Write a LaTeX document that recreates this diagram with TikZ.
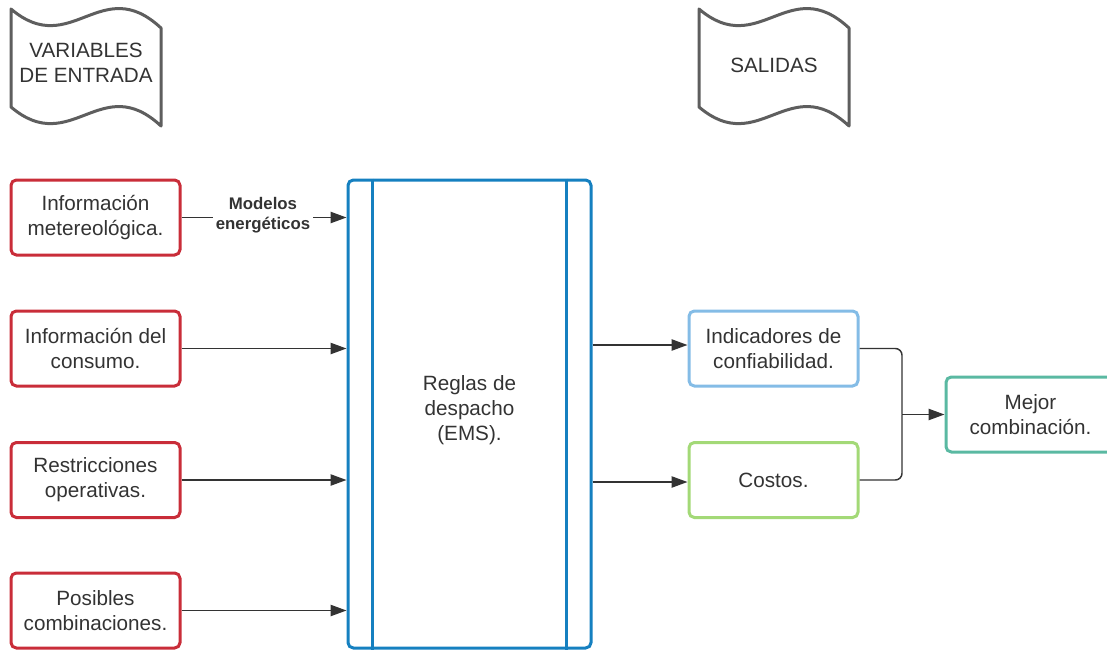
\documentclass[tikz,border=0pt]{standalone}
\usepackage{fontspec}
\setmainfont{Liberation Sans}
\usetikzlibrary{arrows.meta}
\definecolor{cred}{HTML}{C92D39}
\definecolor{cblue}{HTML}{1580C0}
\definecolor{clblue}{HTML}{84BCE6}
\definecolor{cgreen}{HTML}{A3D977}
\definecolor{cteal}{HTML}{5AB9A2}
\definecolor{ctape}{HTML}{5E5E5E}
\definecolor{ctext}{HTML}{333333}
\tikzset{
  box/.style={draw, line width=2.25pt, rounded corners=4pt, minimum width=126.75pt, minimum height=56.25pt, align=center, text=ctext, font=\fontsize{15.5}{18.7}\selectfont, inner sep=0pt},
  tapetxt/.style={align=center, text=ctext, font=\fontsize{15.5}{18.7}\selectfont},
  tape/.style={draw=ctape, line width=2.25pt, line join=round},
  conn/.style={draw=ctext, line width=1.1pt},
  arr/.style={conn, -{Triangle[length=12pt,width=8.5pt]}},
}
\begin{document}
\begin{tikzpicture}[x=0.75pt,y=-0.75pt]
\useasboundingbox (0,0) rectangle (1107,650);
\clip (0,0) rectangle (1107,650);
% tapes
\path[tape] (11,9) .. controls (71,60) and (101,-28) .. (161,28) -- (161,126) .. controls (101,70) and (71,158) .. (11,107) -- cycle;
\node[tapetxt] (vin) at (86,63) {VARIABLES\\DE ENTRADA};
\path[tape] (699,9) .. controls (759,60) and (789,-28) .. (849,28) -- (849,126) .. controls (789,70) and (759,158) .. (699,107) -- cycle;
\node[tapetxt] (sal) at (774,65) {SALIDAS};
% left boxes
\node[box, draw=cred] (b1) at (95.5,217.5) {Información\\metereológica.};
\node[box, draw=cred] (b2) at (95.5,348.5) {Información del\\consumo.};
\node[box, draw=cred] (b3) at (95.5,480) {Restricciones\\operativas.};
\node[box, draw=cred] (b4) at (95.5,610.5) {Posibles\\combinaciones.};
% main box
\node[box, draw=cblue, minimum width=182.25pt, minimum height=351pt] (ems) at (469.5,414) {};
\node[tapetxt] (emst) at (469.5,410) {Reglas de\\despacho\\(EMS).};
\draw[cblue, line width=2.25pt] ([xshift=19.2pt]ems.north west) -- ([xshift=19.2pt]ems.south west);
\draw[cblue, line width=2.25pt] ([xshift=-19.2pt]ems.north east) -- ([xshift=-19.2pt]ems.south east);
% right boxes
\node[box, draw=clblue] (ind) at (773.5,348.5) {Indicadores de\\confiabilidad.};
\node[box, draw=cgreen] (cos) at (773.5,480) {Costos.};
\node[box, draw=cteal] (mej) at (1030.5,414.5) {Mejor\\combinación.};
% connectors left
\node[font=\bfseries\fontsize{12.6}{15}\selectfont, text=ctext, align=center, inner sep=2pt] (lab) at (263,215) {Modelos\\energéticos};
\draw[conn] (b1.east) -- (lab.west |- b1.east);
\draw[arr] (lab.east |- b1.east) -- (ems.west |- b1.east);
\draw[arr] (b2.east) -- (ems.west |- b2.east);
\draw[arr] (b3.east) -- (ems.west |- b3.east);
\draw[arr] (b4.east) -- (ems.west |- b4.east);
% connectors right
\draw[arr] (ems.east |- 0,345) -- (ind.west |- 0,345);
\draw[arr] (ems.east |- 0,482) -- (cos.west |- 0,482);
\coordinate (j) at (902,414.5);
\draw[conn, rounded corners=5pt] (ind.east) -| (j);
\draw[conn, rounded corners=5pt] (cos.east) -| (j);
\draw[arr] (j) -- (mej.west);
\end{tikzpicture}
\end{document}
